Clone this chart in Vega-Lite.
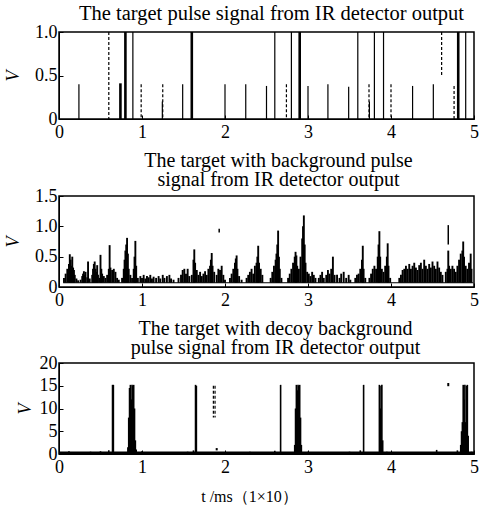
{
  "$schema": "https://vega.github.io/schema/vega-lite/v6.json",
  "background": "white",
  "padding": {"left": 3, "top": 2, "right": 0, "bottom": 0},
  "spacing": 8,
  "config": {
    "view": {"stroke": "black", "strokeWidth": 1.5},
    "font": "Liberation Serif",
    "title": {"font": "Liberation Serif", "fontSize": 20, "fontWeight": "normal", "color": "black", "offset": 6, "lineHeight": 19},
    "axis": {"grid": false, "labelFont": "Liberation Serif", "labelFontSize": 18, "labelColor": "black", "labelOverlap": false, "titleFont": "Liberation Serif", "titleFontSize": 18, "titleFontWeight": "normal", "titleColor": "black", "domainColor": "black", "tickColor": "black", "tickSize": -4, "labelFlush": false}
  },
  "datasets": {
    "p1thick": [
      {"t": 0.74, "lo": 0, "hi": 0.41}, {"t": 0.80, "lo": 0, "hi": 1.0}, {"t": 1.60, "lo": 0, "hi": 1.0},
      {"t": 2.90, "lo": 0, "hi": 1.0}, {"t": 4.81, "lo": 0, "hi": 1.0}
    ],
    "p1thin": [
      {"t": 0.89, "lo": 0, "hi": 1.0}, {"t": 2.60, "lo": 0, "hi": 1.0}, {"t": 2.80, "lo": 0, "hi": 1.0},
      {"t": 3.60, "lo": 0, "hi": 1.0}, {"t": 3.80, "lo": 0, "hi": 1.0}, {"t": 3.91, "lo": 0, "hi": 1.0},
      {"t": 4.90, "lo": 0, "hi": 1.0},
      {"t": 0.24, "lo": 0, "hi": 0.4}, {"t": 1.245, "lo": 0, "hi": 0.2}, {"t": 1.49, "lo": 0, "hi": 0.4},
      {"t": 2.0, "lo": 0, "hi": 0.4}, {"t": 2.25, "lo": 0, "hi": 0.4}, {"t": 2.50, "lo": 0, "hi": 0.38},
      {"t": 3.0, "lo": 0, "hi": 0.38}, {"t": 3.24, "lo": 0, "hi": 0.4}, {"t": 3.49, "lo": 0, "hi": 0.37},
      {"t": 3.74, "lo": 0, "hi": 0.2}, {"t": 4.26, "lo": 0, "hi": 0.38}, {"t": 4.51, "lo": 0, "hi": 0.4}
    ],
    "p1dash": [
      {"t": 0.60, "lo": 0, "hi": 1.0}, {"t": 0.99, "lo": 0, "hi": 0.4}, {"t": 1.25, "lo": 0, "hi": 0.4},
      {"t": 2.74, "lo": 0, "hi": 0.4}, {"t": 3.735, "lo": 0, "hi": 0.4}, {"t": 4.0, "lo": 0, "hi": 0.4},
      {"t": 4.61, "lo": 0.5, "hi": 1.0}, {"t": 4.76, "lo": 0, "hi": 0.38}
    ],
    "p2": [
      {"t": 0.06, "hi": 0.15}, {"t": 0.08, "hi": 0.22}, {"t": 0.10, "hi": 0.3}, {"t": 0.12, "hi": 0.38}, {"t": 0.13, "hi": 0.54}, {"t": 0.14, "hi": 0.45}, {"t": 0.15, "hi": 0.35}, {"t": 0.16, "hi": 0.5}, {"t": 0.17, "hi": 0.32}, {"t": 0.18, "hi": 0.28}, {"t": 0.19, "hi": 0.2}, {"t": 0.21, "hi": 0.14}, {"t": 0.23, "hi": 0.11},
      {"t": 0.26, "hi": 0.12}, {"t": 0.28, "hi": 0.18}, {"t": 0.29, "hi": 0.22}, {"t": 0.30, "hi": 0.26}, {"t": 0.31, "hi": 0.2}, {"t": 0.32, "hi": 0.25}, {"t": 0.34, "hi": 0.16}, {"t": 0.35, "hi": 0.42}, {"t": 0.37, "hi": 0.14},
      {"t": 0.40, "hi": 0.2}, {"t": 0.41, "hi": 0.3}, {"t": 0.42, "hi": 0.38}, {"t": 0.43, "hi": 0.42}, {"t": 0.44, "hi": 0.3}, {"t": 0.45, "hi": 0.25}, {"t": 0.46, "hi": 0.36}, {"t": 0.47, "hi": 0.2}, {"t": 0.49, "hi": 0.15}, {"t": 0.50, "hi": 0.53}, {"t": 0.51, "hi": 0.3}, {"t": 0.52, "hi": 0.22}, {"t": 0.54, "hi": 0.18}, {"t": 0.56, "hi": 0.15}, {"t": 0.58, "hi": 0.2}, {"t": 0.60, "hi": 0.3}, {"t": 0.61, "hi": 0.69}, {"t": 0.62, "hi": 0.32}, {"t": 0.64, "hi": 0.28}, {"t": 0.66, "hi": 0.3}, {"t": 0.68, "hi": 0.25}, {"t": 0.70, "hi": 0.15}, {"t": 0.72, "hi": 0.12},
      {"t": 0.76, "hi": 0.15}, {"t": 0.78, "hi": 0.3}, {"t": 0.79, "hi": 0.45}, {"t": 0.80, "hi": 0.6}, {"t": 0.81, "hi": 0.7}, {"t": 0.82, "hi": 0.81}, {"t": 0.83, "hi": 0.55}, {"t": 0.84, "hi": 0.3}, {"t": 0.86, "hi": 0.2}, {"t": 0.88, "hi": 0.15}, {"t": 0.90, "hi": 0.3}, {"t": 0.91, "hi": 0.5}, {"t": 0.92, "hi": 0.76}, {"t": 0.93, "hi": 0.35}, {"t": 0.95, "hi": 0.15},
      {"t": 0.98, "hi": 0.18}, {"t": 1.00, "hi": 0.15}, {"t": 1.02, "hi": 0.2}, {"t": 1.04, "hi": 0.14}, {"t": 1.06, "hi": 0.18}, {"t": 1.08, "hi": 0.16}, {"t": 1.10, "hi": 0.2}, {"t": 1.12, "hi": 0.14}, {"t": 1.14, "hi": 0.17}, {"t": 1.17, "hi": 0.15}, {"t": 1.20, "hi": 0.18}, {"t": 1.22, "hi": 0.14}, {"t": 1.25, "hi": 0.2}, {"t": 1.27, "hi": 0.15}, {"t": 1.30, "hi": 0.18}, {"t": 1.33, "hi": 0.2}, {"t": 1.35, "hi": 0.14}, {"t": 1.38, "hi": 0.12},
      {"t": 1.44, "hi": 0.15}, {"t": 1.47, "hi": 0.2}, {"t": 1.49, "hi": 0.28}, {"t": 1.51, "hi": 0.3}, {"t": 1.53, "hi": 0.22}, {"t": 1.55, "hi": 0.3}, {"t": 1.57, "hi": 0.18}, {"t": 1.60, "hi": 0.2}, {"t": 1.62, "hi": 0.45}, {"t": 1.63, "hi": 0.62}, {"t": 1.64, "hi": 0.4}, {"t": 1.66, "hi": 0.28}, {"t": 1.68, "hi": 0.2}, {"t": 1.70, "hi": 0.25}, {"t": 1.72, "hi": 0.18}, {"t": 1.74, "hi": 0.22}, {"t": 1.76, "hi": 0.26}, {"t": 1.78, "hi": 0.2}, {"t": 1.80, "hi": 0.3}, {"t": 1.82, "hi": 0.35}, {"t": 1.83, "hi": 0.45}, {"t": 1.84, "hi": 0.56}, {"t": 1.85, "hi": 0.35}, {"t": 1.87, "hi": 0.25}, {"t": 1.90, "hi": 0.2}, {"t": 1.92, "hi": 0.3}, {"t": 1.94, "hi": 0.28}, {"t": 1.96, "hi": 0.35}, {"t": 1.98, "hi": 0.2}, {"t": 2.00, "hi": 0.12},
      {"t": 2.06, "hi": 0.15}, {"t": 2.08, "hi": 0.22}, {"t": 2.10, "hi": 0.3}, {"t": 2.12, "hi": 0.4}, {"t": 2.13, "hi": 0.47}, {"t": 2.14, "hi": 0.52}, {"t": 2.15, "hi": 0.3}, {"t": 2.17, "hi": 0.18}, {"t": 2.20, "hi": 0.12},
      {"t": 2.26, "hi": 0.15}, {"t": 2.28, "hi": 0.2}, {"t": 2.30, "hi": 0.25}, {"t": 2.32, "hi": 0.3}, {"t": 2.34, "hi": 0.22}, {"t": 2.36, "hi": 0.35}, {"t": 2.38, "hi": 0.4}, {"t": 2.39, "hi": 0.5}, {"t": 2.40, "hi": 0.68}, {"t": 2.41, "hi": 0.4}, {"t": 2.43, "hi": 0.3}, {"t": 2.45, "hi": 0.2},
      {"t": 2.55, "hi": 0.15}, {"t": 2.57, "hi": 0.25}, {"t": 2.59, "hi": 0.35}, {"t": 2.61, "hi": 0.45}, {"t": 2.62, "hi": 0.55}, {"t": 2.63, "hi": 0.7}, {"t": 2.64, "hi": 0.93}, {"t": 2.65, "hi": 0.5}, {"t": 2.66, "hi": 0.3}, {"t": 2.68, "hi": 0.15},
      {"t": 2.76, "hi": 0.15}, {"t": 2.78, "hi": 0.22}, {"t": 2.80, "hi": 0.3}, {"t": 2.82, "hi": 0.4}, {"t": 2.84, "hi": 0.5}, {"t": 2.85, "hi": 0.58}, {"t": 2.86, "hi": 0.52}, {"t": 2.87, "hi": 0.35}, {"t": 2.89, "hi": 0.3}, {"t": 2.91, "hi": 0.5}, {"t": 2.93, "hi": 0.8}, {"t": 2.94, "hi": 1.0}, {"t": 2.95, "hi": 1.18}, {"t": 2.96, "hi": 0.7}, {"t": 2.97, "hi": 0.4}, {"t": 2.99, "hi": 0.25}, {"t": 3.01, "hi": 0.22}, {"t": 3.03, "hi": 0.18}, {"t": 3.05, "hi": 0.25}, {"t": 3.07, "hi": 0.2}, {"t": 3.09, "hi": 0.15},
      {"t": 3.13, "hi": 0.15}, {"t": 3.15, "hi": 0.2}, {"t": 3.17, "hi": 0.25}, {"t": 3.19, "hi": 0.15}, {"t": 3.22, "hi": 0.2}, {"t": 3.24, "hi": 0.28}, {"t": 3.26, "hi": 0.22}, {"t": 3.28, "hi": 0.3}, {"t": 3.30, "hi": 0.5}, {"t": 3.32, "hi": 0.2}, {"t": 3.35, "hi": 0.2}, {"t": 3.38, "hi": 0.15}, {"t": 3.40, "hi": 0.22}, {"t": 3.43, "hi": 0.25}, {"t": 3.46, "hi": 0.15}, {"t": 3.49, "hi": 0.2}, {"t": 3.51, "hi": 0.12},
      {"t": 3.57, "hi": 0.15}, {"t": 3.59, "hi": 0.2}, {"t": 3.61, "hi": 0.22}, {"t": 3.63, "hi": 0.3}, {"t": 3.65, "hi": 0.45}, {"t": 3.66, "hi": 0.68}, {"t": 3.67, "hi": 0.3}, {"t": 3.69, "hi": 0.15},
      {"t": 3.74, "hi": 0.15}, {"t": 3.76, "hi": 0.22}, {"t": 3.78, "hi": 0.3}, {"t": 3.80, "hi": 0.35}, {"t": 3.82, "hi": 0.3}, {"t": 3.84, "hi": 0.5}, {"t": 3.85, "hi": 0.7}, {"t": 3.86, "hi": 0.92}, {"t": 3.87, "hi": 0.5}, {"t": 3.89, "hi": 0.3}, {"t": 3.91, "hi": 0.25}, {"t": 3.93, "hi": 0.35}, {"t": 3.95, "hi": 0.5}, {"t": 3.96, "hi": 0.72}, {"t": 3.97, "hi": 0.35}, {"t": 3.99, "hi": 0.15},
      {"t": 4.10, "hi": 0.15}, {"t": 4.12, "hi": 0.2}, {"t": 4.14, "hi": 0.28}, {"t": 4.16, "hi": 0.3}, {"t": 4.18, "hi": 0.35}, {"t": 4.20, "hi": 0.3}, {"t": 4.22, "hi": 0.38}, {"t": 4.24, "hi": 0.3}, {"t": 4.26, "hi": 0.35}, {"t": 4.28, "hi": 0.4}, {"t": 4.30, "hi": 0.32}, {"t": 4.32, "hi": 0.28}, {"t": 4.34, "hi": 0.36}, {"t": 4.36, "hi": 0.4}, {"t": 4.38, "hi": 0.3}, {"t": 4.40, "hi": 0.45}, {"t": 4.42, "hi": 0.35}, {"t": 4.44, "hi": 0.3}, {"t": 4.46, "hi": 0.38}, {"t": 4.48, "hi": 0.32}, {"t": 4.50, "hi": 0.42}, {"t": 4.52, "hi": 0.35}, {"t": 4.54, "hi": 0.3}, {"t": 4.56, "hi": 0.42}, {"t": 4.58, "hi": 0.32}, {"t": 4.60, "hi": 0.25}, {"t": 4.62, "hi": 0.2},
      {"t": 4.66, "hi": 0.25}, {"t": 4.68, "hi": 0.3}, {"t": 4.69, "hi": 0.6}, {"t": 4.70, "hi": 0.35}, {"t": 4.72, "hi": 0.3}, {"t": 4.74, "hi": 0.35}, {"t": 4.76, "hi": 0.3}, {"t": 4.78, "hi": 0.25}, {"t": 4.80, "hi": 0.35}, {"t": 4.82, "hi": 0.45}, {"t": 4.84, "hi": 0.55}, {"t": 4.86, "hi": 0.6}, {"t": 4.87, "hi": 0.75}, {"t": 4.88, "hi": 0.5}, {"t": 4.90, "hi": 0.35}, {"t": 4.92, "hi": 0.3}, {"t": 4.94, "hi": 0.4}, {"t": 4.96, "hi": 0.55}, {"t": 4.97, "hi": 0.3}
    ],
    "p2float": [
      {"t": 1.93, "lo": 0.9, "hi": 0.96}, {"t": 4.69, "lo": 0.7, "hi": 1.02}
    ],
    "p2base": [
      {"t": 0.05, "lo": 0.07, "hi": 0.07}, {"t": 4.99, "lo": 0.07, "hi": 0.07}
    ],
    "p3": [
      {"t": 0.05, "hi": 0.4}, {"t": 0.12, "hi": 0.6}, {"t": 0.2, "hi": 0.3}, {"t": 0.3, "hi": 0.4}, {"t": 0.38, "hi": 0.5}, {"t": 0.45, "hi": 0.3}, {"t": 0.5, "hi": 0.6}, {"t": 0.55, "hi": 0.3}, {"t": 0.6, "hi": 0.8},
      {"t": 0.645, "hi": 15.2}, {"t": 0.655, "hi": 15.2},
      {"t": 0.83, "hi": 1.5}, {"t": 0.84, "hi": 8}, {"t": 0.85, "hi": 14.5}, {"t": 0.86, "hi": 15.2}, {"t": 0.87, "hi": 12}, {"t": 0.88, "hi": 15.2}, {"t": 0.89, "hi": 15}, {"t": 0.90, "hi": 15.2}, {"t": 0.91, "hi": 10}, {"t": 0.92, "hi": 3}, {"t": 0.93, "hi": 1},
      {"t": 1.0, "hi": 0.6}, {"t": 1.1, "hi": 0.4}, {"t": 1.2, "hi": 0.3}, {"t": 1.35, "hi": 0.4}, {"t": 1.45, "hi": 0.3}, {"t": 1.55, "hi": 0.5}, {"t": 1.62, "hi": 0.8},
      {"t": 1.645, "hi": 15.2}, {"t": 1.655, "hi": 15},
      {"t": 2.0, "hi": 0.4}, {"t": 2.1, "hi": 0.3}, {"t": 2.3, "hi": 0.5}, {"t": 2.45, "hi": 0.4}, {"t": 2.6, "hi": 0.7},
      {"t": 2.67, "hi": 15.2},
      {"t": 2.84, "hi": 2}, {"t": 2.85, "hi": 10}, {"t": 2.86, "hi": 15.2}, {"t": 2.87, "hi": 14}, {"t": 2.88, "hi": 15.2}, {"t": 2.89, "hi": 15}, {"t": 2.90, "hi": 15.2}, {"t": 2.91, "hi": 8}, {"t": 2.92, "hi": 2},
      {"t": 3.0, "hi": 0.5}, {"t": 3.2, "hi": 0.4}, {"t": 3.4, "hi": 0.3}, {"t": 3.5, "hi": 0.5}, {"t": 3.63, "hi": 0.8},
      {"t": 3.67, "hi": 15.2},
      {"t": 3.86, "hi": 15.2}, {"t": 3.87, "hi": 10}, {"t": 3.88, "hi": 15}, {"t": 3.89, "hi": 15.2}, {"t": 3.90, "hi": 3},
      {"t": 3.95, "hi": 0.5}, {"t": 4.1, "hi": 0.4}, {"t": 4.3, "hi": 0.3}, {"t": 4.5, "hi": 0.4}, {"t": 4.55, "hi": 0.9}, {"t": 4.7, "hi": 0.4}, {"t": 4.8, "hi": 0.8},
      {"t": 4.84, "hi": 2}, {"t": 4.85, "hi": 5}, {"t": 4.86, "hi": 7}, {"t": 4.87, "hi": 15.2}, {"t": 4.88, "hi": 12}, {"t": 4.89, "hi": 15.2}, {"t": 4.90, "hi": 7}, {"t": 4.91, "hi": 15}, {"t": 4.92, "hi": 15.2}, {"t": 4.93, "hi": 4}, {"t": 4.97, "hi": 0.5}
    ],
    "p3float": [
      {"t": 1.86, "lo": 8, "hi": 15}, {"t": 1.88, "lo": 8, "hi": 15}
    ],
    "p3dot": [
      {"t": 1.9, "lo": 0.8, "hi": 1.3}, {"t": 4.69, "lo": 14.9, "hi": 15.6}
    ],
    "p3base": [
      {"t": 0, "lo": 0.25, "hi": 0.25}, {"t": 5, "lo": 0.25, "hi": 0.25}
    ]
  },
  "vconcat": [
    {
      "width": 415, "height": 87,
      "title": {"text": "The target pulse signal from IR detector output", "fontSize": 20.5, "offset": -1, "dx": 5},
      "encoding": {
        "x": {"field": "t", "type": "quantitative", "scale": {"domain": [0, 5], "nice": false}, "axis": {"values": [0, 1, 2, 3, 4, 5], "format": "d", "title": null, "labelPadding": 8}},
        "y": {"field": "hi", "type": "quantitative", "scale": {"domain": [0, 1]}, "axis": {"values": [0, 0.5, 1], "labelOverlap": false, "labelExpr": "datum.value == 0 ? '0' : format(datum.value, '.1f')", "title": "V", "titleFontStyle": "italic", "titlePadding": 12, "labelPadding": 6}},
        "y2": {"field": "lo"}
      },
      "layer": [
        {"data": {"name": "p1thin"}, "mark": {"type": "rule", "color": "black", "strokeWidth": 1.2}},
        {"data": {"name": "p1thick"}, "mark": {"type": "rule", "color": "black", "strokeWidth": 2.6}},
        {"data": {"name": "p1dash"}, "mark": {"type": "rule", "color": "black", "strokeWidth": 1.2, "strokeDash": [3, 2]}}
      ]
    },
    {
      "width": 415, "height": 91,
      "title": {"text": ["The target with background pulse", "signal from IR detector output"], "offset": -3, "dx": 12},
      "encoding": {
        "x": {"field": "t", "type": "quantitative", "scale": {"domain": [0, 5], "nice": false}, "axis": {"values": [0, 1, 2, 3, 4, 5], "format": "d", "title": null, "labelPadding": 8}},
        "y": {"field": "hi", "type": "quantitative", "scale": {"domain": [0, 1.5]}, "axis": {"values": [0, 0.5, 1, 1.5], "labelOverlap": false, "labelExpr": "datum.value == 0 ? '0' : format(datum.value, '.1f')", "title": "V", "titleFontStyle": "italic", "titlePadding": 12, "labelPadding": 6}}
      },
      "layer": [
        {"data": {"name": "p2"}, "mark": {"type": "rule", "color": "black", "strokeWidth": 1.9}, "encoding": {"y2": {"datum": 0.07}}},
        {"data": {"name": "p2float"}, "mark": {"type": "rule", "color": "black", "strokeWidth": 1.5}, "encoding": {"y2": {"field": "lo"}}},
        {"data": {"name": "p2base"}, "mark": {"type": "line", "color": "black", "strokeWidth": 1.2}, "encoding": {}}
      ]
    },
    {
      "width": 415, "height": 91,
      "title": {"text": ["The target with decoy background", "pulse signal from IR detector output"], "offset": -4, "dx": 9},
      "encoding": {
        "x": {"field": "t", "type": "quantitative", "scale": {"domain": [0, 5], "nice": false}, "axis": {"values": [0, 1, 2, 3, 4, 5], "format": "d", "title": "t /ms（1×10）", "titleFontSize": 16, "titleX": 190, "labelPadding": 8, "titlePadding": 12}},
        "y": {"field": "hi", "type": "quantitative", "scale": {"domain": [0, 20]}, "axis": {"values": [0, 5, 10, 15, 20], "labelOverlap": false, "title": "V", "titleFontStyle": "italic", "titlePadding": 5, "labelPadding": 6}}
      },
      "layer": [
        {"data": {"name": "p3"}, "mark": {"type": "rule", "color": "black", "strokeWidth": 1.6}, "encoding": {"y2": {"datum": 0}}},
        {"data": {"name": "p3float"}, "mark": {"type": "rule", "color": "black", "strokeWidth": 1.2, "strokeDash": [3, 2]}, "encoding": {"y2": {"field": "lo"}}},
        {"data": {"name": "p3dot"}, "mark": {"type": "rule", "color": "black", "strokeWidth": 2}, "encoding": {"y2": {"field": "lo"}}},
        {"data": {"name": "p3base"}, "mark": {"type": "line", "color": "black", "strokeWidth": 2.5}, "encoding": {}}
      ]
    }
  ]
}
